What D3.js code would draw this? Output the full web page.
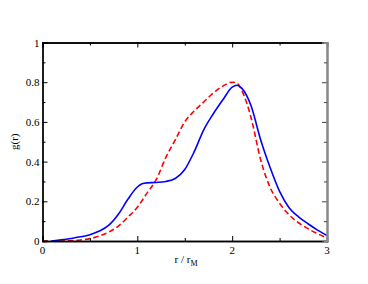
<!DOCTYPE html>
<html>
<head>
<meta charset="utf-8">
<script src="https://cdn.jsdelivr.net/npm/d3@7"></script>
<style>
body { margin: 0; background: #fff; }
text { font-family: "Liberation Serif", "DejaVu Serif", serif; font-size: 11px; fill: #000; }
</style>
</head>
<body>
<script>
// g(r) curves
var rBlue = [0.1, 0.2, 0.3, 0.4, 0.5, 0.6, 0.7, 0.8, 0.9, 1.0, 1.05, 1.1, 1.2, 1.3, 1.4, 1.5, 1.6, 1.7, 1.8, 1.9, 2.0, 2.05, 2.1, 2.2, 2.3, 2.4, 2.5, 2.6, 2.7, 2.8, 2.9, 3.0];
var gBlue = [0, 0.006, 0.013, 0.021, 0.032, 0.05, 0.08, 0.135, 0.21, 0.272, 0.288, 0.293, 0.295, 0.30, 0.315, 0.36, 0.45, 0.56, 0.64, 0.71, 0.775, 0.785, 0.77, 0.68, 0.51, 0.37, 0.25, 0.168, 0.122, 0.087, 0.055, 0.028];

var rRed = [0, 0.2, 0.4, 0.5, 0.6, 0.7, 0.8, 0.9, 1.0, 1.1, 1.2, 1.3, 1.4, 1.5, 1.6, 1.7, 1.8, 1.9, 2.0, 2.05, 2.1, 2.2, 2.3, 2.4, 2.5, 2.6, 2.7, 2.8, 2.9, 3.0];
var gRed = [0, 0, 0.005, 0.012, 0.025, 0.045, 0.075, 0.12, 0.17, 0.24, 0.31, 0.42, 0.51, 0.60, 0.655, 0.70, 0.745, 0.78, 0.80, 0.795, 0.76, 0.62, 0.41, 0.27, 0.19, 0.132, 0.092, 0.062, 0.037, 0.015];

var xTicks = [0, 1, 2, 3];
var yTicks = [0, 0.2, 0.4, 0.6, 0.8, 1];

var margin = {top: 42.5, right: 41, bottom: 43, left: 42.5},
    W = 368, H = 284,
    width = W - margin.left - margin.right,
    height = H - margin.top - margin.bottom;

var svg = d3.select("body").append("svg")
    .attr("width", W).attr("height", H);
var g = svg.append("g")
    .attr("transform", "translate(" + margin.left + "," + margin.top + ")");

var x = d3.scaleLinear().domain([0, 3]).range([0, width]);
var y = d3.scaleLinear().domain([0, 1]).range([height, 0]);

var line = d3.line()
    .x(function(d) { return x(d[0]); })
    .y(function(d) { return y(d[1]); })
    .curve(d3.curveMonotoneX);

g.append("path")
    .datum(d3.zip(rRed, gRed))
    .attr("d", line)
    .attr("fill", "none")
    .attr("stroke", "#ff0000")
    .attr("stroke-width", 1.6)
    .attr("stroke-dasharray", "5.5,3");

g.append("path")
    .datum(d3.zip(rBlue, gBlue))
    .attr("d", line)
    .attr("fill", "none")
    .attr("stroke", "#0000ff")
    .attr("stroke-width", 1.6);

// axes, ticks pointing inward
var xMinor = d3.range(0.5, 3, 1);
var yMinor = d3.range(0.1, 1, 0.2);

var bottom = g.append("g").attr("transform", "translate(0," + height + ")")
    .call(d3.axisTop(x).tickValues(xTicks).tickSize(5).tickFormat(""));
bottom.append("g").call(d3.axisTop(x).tickValues(xMinor).tickSize(3).tickFormat(""));
var top_ = g.append("g")
    .call(d3.axisBottom(x).tickValues(xTicks).tickSize(5).tickFormat(""));
top_.append("g").call(d3.axisBottom(x).tickValues(xMinor).tickSize(3).tickFormat(""));
var left = g.append("g")
    .call(d3.axisRight(y).tickValues(yTicks).tickSize(5).tickFormat(""));
left.append("g").call(d3.axisRight(y).tickValues(yMinor).tickSize(3).tickFormat(""));
var right = g.append("g").attr("transform", "translate(" + width + ",0)")
    .call(d3.axisLeft(y).tickValues(yTicks).tickSize(5).tickFormat(""));
right.append("g").call(d3.axisLeft(y).tickValues(yMinor).tickSize(3).tickFormat(""));

g.selectAll(".domain").attr("stroke", "#000").attr("stroke-width", 1.3);
g.selectAll(".tick line").attr("stroke", "#000");
right.selectAll(".domain").attr("stroke", "#888").attr("stroke-width", 2);
right.selectAll(".tick line").attr("stroke", "#444");

// tick labels
g.selectAll(".xlab").data(xTicks).enter().append("text")
    .attr("x", function(d) { return x(d); })
    .attr("y", height + 13)
    .attr("text-anchor", "middle")
    .text(function(d) { return d; });
g.selectAll(".ylab").data(yTicks).enter().append("text")
    .attr("x", -3)
    .attr("y", function(d) { return y(d) + 4; })
    .attr("text-anchor", "end")
    .text(function(d) { return d; });

// axis titles
var xt = svg.append("text")
    .attr("x", 186).attr("y", 263)
    .attr("text-anchor", "middle");
xt.append("tspan").text("r / r");
xt.append("tspan").attr("dy", 3).style("font-size", "8px").text("M");

svg.append("text")
    .attr("transform", "translate(18," + (margin.top + height / 2) + ") rotate(-90)")
    .attr("text-anchor", "middle")
    .text("g(r)");
</script>
</body>
</html>
